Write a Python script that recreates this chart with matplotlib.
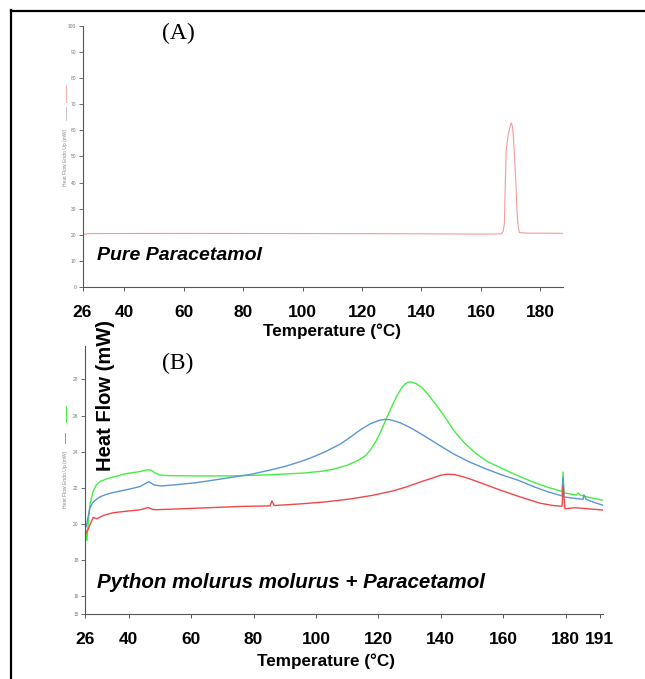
import matplotlib
matplotlib.use("Agg")
import matplotlib.pyplot as plt
from matplotlib.lines import Line2D

# ---------------- data ----------------
# Panel A: pure paracetamol (temperature in deg C, heat flow in mW)
a_temp = [26.3, 28.6, 60.0, 100.0, 140.0, 160.0, 166.5, 167.1, 167.5, 167.9, 168.2,
          168.5, 169.2, 169.8, 170.2, 170.6, 170.9, 171.4, 171.8, 172.1, 172.4, 172.7,
          173.0, 176.0, 187.6]
a_flow = [20.2, 20.55, 20.6, 20.55, 20.45, 20.35, 20.4, 20.6, 21.5, 24.5, 40.0,
          52.5, 58.5, 61.4, 62.9, 61.5, 57.6, 48.0, 38.5, 30.0, 24.5, 22.0,
          20.9, 20.7, 20.65]

# Panel B: Python molurus molurus + paracetamol
g_temp = [26.0, 26.6, 27.2, 27.6, 28.6, 29.6, 30.8, 33.0, 35.0, 39.0, 43.6, 46.2, 47.2,
          48.2, 49.7, 52.0, 60.0, 73.4, 85.0, 96.2, 102.0, 106.0, 110.0, 113.0, 115.7,
          117.5, 119.3, 121.0, 122.5, 124.3, 126.0, 127.5, 128.6, 129.6, 130.5, 132.0,
          134.0, 136.0, 138.5, 141.0, 144.3, 147.5, 151.3, 155.0, 159.3, 163.0, 167.0,
          170.6, 174.0, 176.3, 178.9, 179.2, 179.5, 181.4, 183.4, 184.2, 184.7, 188.0,
          192.0]
g_flow = [19.74, 19.08, 20.4, 21.1, 21.8, 22.15, 22.35, 22.5, 22.6, 22.78, 22.9, 23.01,
          22.97, 22.85, 22.72, 22.68, 22.66, 22.66, 22.72, 22.82, 22.92, 23.05, 23.25,
          23.48, 23.75, 24.1, 24.6, 25.2, 25.8, 26.5, 27.1, 27.55, 27.75, 27.85, 27.86,
          27.78, 27.55, 27.15, 26.6, 26.0, 25.15, 24.5, 23.9, 23.45, 23.1, 22.8, 22.5,
          22.25, 22.05, 21.93, 21.8, 22.87, 21.72, 21.66, 21.6, 21.72, 21.6, 21.45,
          21.32]

b_temp = [26.0, 26.4, 27.0, 27.6, 28.4, 29.2, 30.8, 33.0, 35.0, 40.0, 43.6, 45.5, 46.5,
          47.3, 48.1, 50.4, 55.0, 61.9, 70.0, 79.2, 85.0, 90.4, 95.0, 98.4, 103.0, 107.7,
          111.0, 114.5, 117.5, 120.2, 122.0, 123.8, 127.0, 130.5, 134.0, 137.5, 141.0,
          144.3, 149.0, 153.6, 159.0, 165.1, 170.0, 174.0, 178.9, 179.2, 179.5, 181.4,
          185.6, 185.9, 186.6, 189.0, 192.0]
b_flow = [20.09, 19.85, 20.4, 20.91, 21.15, 21.3, 21.5, 21.65, 21.74, 21.92, 22.07,
          22.25, 22.34, 22.25, 22.16, 22.1, 22.17, 22.29, 22.5, 22.75, 22.97, 23.2, 23.45,
          23.66, 24.0, 24.41, 24.8, 25.24, 25.55, 25.73, 25.79, 25.77, 25.6, 25.31, 24.95,
          24.58, 24.2, 23.86, 23.45, 23.11, 22.75, 22.4, 22.05, 21.8, 21.55, 22.56, 21.5,
          21.45, 21.36, 21.61, 21.36, 21.2, 21.04]

r_temp = [26.0, 26.3, 27.0, 27.6, 28.6, 29.8, 32.0, 35.0, 40.0, 43.6, 46.2, 47.8, 49.1,
          60.0, 75.7, 85.3, 85.9, 86.6, 94.9, 103.0, 110.9, 118.0, 124.7, 129.0, 133.4,
          137.5, 140.0, 142.0, 144.5, 147.0, 149.4, 154.0, 159.0, 165.4, 171.8, 176.0,
          178.9, 179.2, 179.8, 183.0, 192.0]
r_flow = [20.0, 19.47, 19.7, 19.96, 20.36, 20.29, 20.48, 20.62, 20.72, 20.78, 20.91,
          20.8, 20.79, 20.86, 20.97, 21.0, 21.28, 21.02, 21.11, 21.22, 21.38, 21.58,
          21.83, 22.05, 22.32, 22.55, 22.7, 22.75, 22.73, 22.62, 22.49, 22.2, 21.88,
          21.5, 21.15, 21.02, 20.98, 22.1, 20.84, 20.9, 20.77]

a_xticks = [26, 40, 60, 80, 100, 120, 140, 160, 180]
a_yticks = [0, 10, 20, 30, 40, 50, 60, 70, 80, 90, 100]
b_xticks = [26, 40, 60, 80, 100, 120, 140, 160, 180, 191]
b_yticks = [15, 16, 18, 20, 22, 24, 26, 28]

# ---------------- figure ----------------
W, H = 645, 679
fig = plt.figure(figsize=(W / 100, H / 100), dpi=100)
fig.patch.set_facecolor("white")

SANS = "Liberation Sans"
SERIF = "Liberation Serif"
SPINE = "#555555"


def fx(px):
    return px / W


def fy(py):
    return 1 - py / H


def style_axes(ax, xticks, yticks):
    for s in ("top", "right"):
        ax.spines[s].set_visible(False)
    for s in ("left", "bottom"):
        ax.spines[s].set_color(SPINE)
        ax.spines[s].set_linewidth(0.8)
    ax.set_xticks(xticks)
    ax.set_xticklabels([str(t) for t in xticks], fontfamily=SANS,
                       fontweight="bold", fontsize=12.5)
    ax.set_yticks(yticks)
    ax.set_yticklabels([str(t) for t in yticks], fontfamily=SANS,
                       fontsize=3.5, color="#777777")
    ax.tick_params(axis="x", direction="out", length=3, width=0.7,
                   color=SPINE, pad=10)
    ax.tick_params(axis="y", direction="out", length=3, width=0.6,
                   color=SPINE, pad=1.5)
    ax.set_facecolor("none")


# Panel A
axA = fig.add_axes([fx(82.5), fy(287.3), fx(563) - fx(82.5), fy(25.7) - fy(287.3)])
axA.plot(a_temp, a_flow, color="#f58a8a", lw=0.8, alpha=0.85)
axA.set_xlim(26, 187.6)
axA.set_ylim(0, 100)
style_axes(axA, a_xticks, a_yticks)

# Panel B
axB = fig.add_axes([fx(85), fy(614.3), fx(603) - fx(85), fy(346) - fy(614.3)])
axB.plot(g_temp, g_flow, color="#44ee44", lw=1.0)
axB.plot(b_temp, b_flow, color="#5a96d2", lw=1.0)
axB.plot(r_temp, r_flow, color="#f04848", lw=1.0)
axB.set_xlim(26, 192)
axB.set_ylim(15, 29.85)
style_axes(axB, b_xticks, b_yticks)

# ---------------- texts ----------------
fig.text(fx(178), fy(33), "(A)", fontfamily=SERIF, fontsize=17,
         ha="center", va="center")
fig.text(fx(178), fy(363), "(B)", fontfamily=SERIF, fontsize=17,
         ha="center", va="center")
fig.text(fx(97), fy(256), "Pure Paracetamol", fontfamily=SANS, fontsize=14,
         fontweight="bold", fontstyle="italic", ha="left", va="center")
fig.text(fx(97), fy(583), "Python molurus molurus + Paracetamol", fontfamily=SANS,
         fontsize=14.8, fontweight="bold", fontstyle="italic", ha="left", va="center")
fig.text(fx(332), fy(331), "Temperature (°C)", fontfamily=SANS, fontsize=12.3,
         fontweight="bold", ha="center", va="center")
fig.text(fx(326), fy(661), "Temperature (°C)", fontfamily=SANS, fontsize=12.3,
         fontweight="bold", ha="center", va="center")
fig.text(fx(105), fy(395), "Heat Flow (mW)", fontfamily=SANS, fontsize=14.5,
         fontweight="bold", rotation=90, ha="center", va="center")
fig.text(fx(66), fy(157), "Heat Flow Endo Up (mW)", fontfamily=SANS, fontsize=3.6,
         color="#888888", rotation=90, ha="center", va="center")
fig.text(fx(65), fy(479), "Heat Flow Endo Up (mW)", fontfamily=SANS, fontsize=3.6,
         color="#888888", rotation=90, ha="center", va="center")

# small legend strokes beside the tiny axis titles
fig.add_artist(Line2D([fx(66), fx(66)], [fy(85), fy(102)], color="#f7a0a0", lw=0.6))
fig.add_artist(Line2D([fx(66), fx(66)], [fy(107), fy(120)], color="#aaaaaa", lw=0.5))
fig.add_artist(Line2D([fx(66), fx(66)], [fy(406), fy(422)], color="#44ee44", lw=0.7))
fig.add_artist(Line2D([fx(65), fx(65)], [fy(433), fy(443)], color="#666699", lw=0.5))

# border lines (top and left)
fig.add_artist(Line2D([fx(11), fx(645)], [fy(10.5), fy(10.5)], color="black", lw=1.6))
fig.add_artist(Line2D([fx(11.3), fx(11.3)], [fy(10), fy(679)], color="black", lw=1.6))

fig.savefig("out.png", dpi=100, facecolor="white")
